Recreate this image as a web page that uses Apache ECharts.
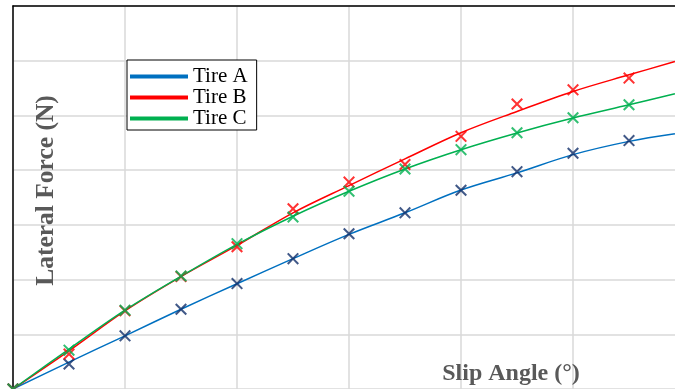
<!DOCTYPE html>
<html>
<head>
<meta charset="utf-8">
<script src="https://cdn.jsdelivr.net/npm/echarts@6/dist/echarts.min.js"></script>
<style>html,body{margin:0;padding:0;background:#fff;overflow:hidden}#c{width:690px;height:389px}</style>
</head>
<body>
<div id="c"></div>
<script>
// Slip angle (degrees) at measured points
var slipAngles = [0, 1, 2, 3, 4, 5, 6, 7, 8, 9, 10, 11];
// Measured lateral force (N)
var tireA = [0, 228, 486, 729, 963, 1191, 1419, 1610, 1816, 1986, 2154, 2270];
var tireB = [0, 319, 714, 1027, 1300, 1647, 1891, 2051, 2309, 2604, 2734, 2841];
var tireC = [0, 355, 720, 1033, 1328, 1572, 1807, 2011, 2187, 2342, 2479, 2597];
// Fitted curves
var fitAngles = [0, 1, 2, 3, 4, 5, 6, 7, 8, 9, 10, 11, 11.82];
var fitA = [0, 246, 486, 729, 962, 1191, 1413, 1610, 1818, 1975, 2142, 2263, 2333];
var fitB = [0, 349, 714, 1027, 1312, 1610, 1859, 2103, 2342, 2536, 2719, 2871, 2992];
var fitC = [0, 365, 720, 1030, 1322, 1579, 1807, 2011, 2187, 2340, 2476, 2597, 2698];
var seriesNames = ['Tire A', 'Tire B', 'Tire C'];
var xTitle = 'Slip Angle (°)';
var yTitle = 'Lateral Force (N)';

function pairs(xs, ys) { return xs.map(function (x, i) { return [x, ys[i]]; }); }

var crossPath = 'path://M0,1.2L1.2,0L5,3.8L8.8,0L10,1.2L6.2,5L10,8.8L8.8,10L5,6.2L1.2,10L0,8.8L3.8,5Z';
var lineColors = ['#0070C0', '#FF0000', '#00B050'];
var markColors = ['#12306A', '#FF0000', '#00B050'];
var fits = [fitA, fitB, fitC];
var meas = [tireA, tireB, tireC];

var series = [];
for (var i = 0; i < 3; i++) {
  series.push({
    name: seriesNames[i], type: 'line', smooth: 0.35, showSymbol: false,
    data: pairs(fitAngles, fits[i]),
    lineStyle: { color: lineColors[i], width: 1.5 },
    itemStyle: { color: lineColors[i] },
    z: 10
  });
}
for (var j = 0; j < 3; j++) {
  series.push({
    name: seriesNames[j] + ' data', type: 'scatter', symbol: crossPath, symbolSize: 12,
    data: pairs(slipAngles, meas[j]),
    itemStyle: { color: markColors[j] },
    z: 11
  });
}

var gridLine = { show: true, lineStyle: { color: '#D9D9D9', width: 1.5 } };
var chart = echarts.init(document.getElementById('c'));
chart.setOption({
  animation: false,
  backgroundColor: '#fff',
  grid: { left: 13, top: 6, width: 672, height: 384, show: false },
  xAxis: [{
    type: 'value', min: 0, max: 12, interval: 2, z: 0,
    axisLine: { show: false }, axisTick: { show: false }, axisLabel: { show: false },
    splitLine: gridLine
  }, {
    type: 'value', position: 'top', min: 0, max: 12, interval: 2, z: 6,
    axisLine: { show: true, onZero: false, lineStyle: { color: '#000', width: 1.5 } },
    axisTick: { show: false }, axisLabel: { show: false }, splitLine: { show: false }
  }],
  yAxis: {
    type: 'value', min: 0, max: 3500, interval: 500, z: 3,
    axisLine: { show: true, onZero: false, lineStyle: { color: '#000', width: 1.5 } },
    axisTick: { show: false }, axisLabel: { show: false },
    splitLine: gridLine
  },
  legend: {
    data: seriesNames, orient: 'vertical', left: 127, top: 60, z: 20,
    icon: 'rect', itemWidth: 58, itemHeight: 4, itemGap: 0,
    padding: [6, 9, 1, 3],
    backgroundColor: '#fff', borderColor: '#000', borderWidth: 1,
    textStyle: { fontFamily: 'Liberation Serif', fontSize: 21, color: '#000', lineHeight: 20 }
  },
  graphic: [
    { type: 'text', x: 511, y: 373.5, z: 20,
      style: { text: xTitle, fontFamily: 'Liberation Serif', fontWeight: 'bold', fontSize: 24,
               fill: '#595959', align: 'center', verticalAlign: 'middle' } },
    { type: 'text', x: 46, y: 190.5, rotation: Math.PI / 2, z: 20,
      style: { text: yTitle, fontFamily: 'Liberation Serif', fontWeight: 'bold', fontSize: 25.5,
               fill: '#595959', align: 'center', verticalAlign: 'middle' } }
  ],
  series: series
});
</script>
</body>
</html>
